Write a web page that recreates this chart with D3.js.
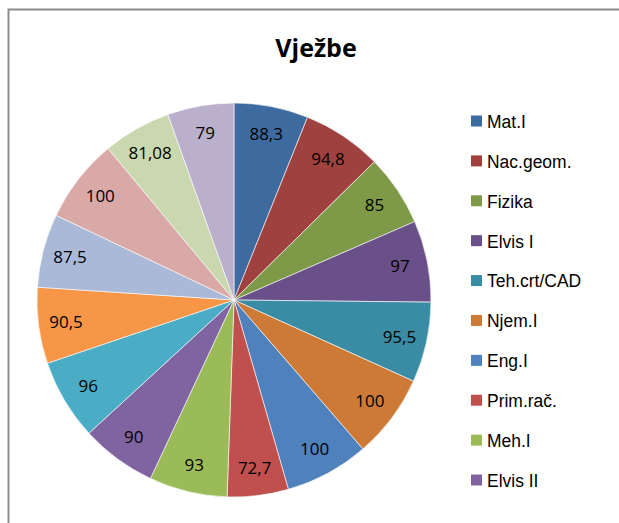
<!DOCTYPE html>
<meta charset="utf-8">
<script src="https://cdn.jsdelivr.net/npm/d3@7"></script>
<style>
body { margin: 0; background: #fff; }
.lbl { font: 17px "Open Sans", "Noto Sans", sans-serif; fill: #000; }
.leg { font: 19px "Liberation Sans", Arial, sans-serif; fill: #000; }
.title { font: bold 25px "Open Sans", "Noto Sans", sans-serif; fill: #000; }
</style>
<body>
<script>

var subjects = ["Mat.I", "Nac.geom.", "Fizika", "Elvis I", "Teh.crt/CAD", "Njem.I", "Eng.I",
                "Prim.rač.", "Meh.I", "Elvis II", "S11", "S12", "S13", "S14", "S15", "S16"];
var values = [88.3, 94.8, 85, 97, 95.5, 100, 100, 72.7, 93, 90, 96, 90.5, 87.5, 100, 81.08, 79];
var labels = ["88,3", "94,8", "85", "97", "95,5", "100", "100", "72,7", "93", "90", "96", "90,5", "87,5", "100", "81,08", "79"];
var colors = ["#3d6b9f", "#9f413e", "#7e9a48", "#6a5088", "#3a8ca4", "#cd7a37",
              "#4f81bd", "#c0504d", "#9bbb59", "#8064a2", "#4bacc6", "#f79646",
              "#a9b9d7", "#d9a9a8", "#c9d8ae", "#bbb0cc"];
var legendCount = 10;

var width = 619, height = 523;
var cx = 234, cy = 300, radius = 197;

var svg = d3.select("body").append("svg")
    .attr("width", width)
    .attr("height", height);

// chart frame (only top and left visible)
svg.append("path")
    .attr("d", "M8.5,523 L8.5,9.5 L619,9.5")
    .attr("fill", "none")
    .attr("stroke", "#8c8c8c")
    .attr("stroke-width", 2);

svg.append("text")
    .attr("class", "title")
    .attr("x", 316)
    .attr("y", 57)
    .attr("text-anchor", "middle")
    .text("Vježbe");

var pie = d3.pie().sort(null).value(function(d) { return d; });
var arcs = pie(values);

var arc = d3.arc().innerRadius(0).outerRadius(radius);
var labelArc = d3.arc().innerRadius(radius * 0.86).outerRadius(radius * 0.86);

var g = svg.append("g").attr("transform", "translate(" + cx + "," + cy + ")");

g.selectAll("path")
    .data(arcs)
    .enter().append("path")
    .attr("d", arc)
    .attr("fill", function(d, i) { return colors[i]; })
    .attr("stroke", "#fff")
    .attr("stroke-width", 0.6);

g.selectAll("text")
    .data(arcs)
    .enter().append("text")
    .attr("class", "lbl")
    .attr("transform", function(d) {
      var c = labelArc.centroid(d);
      return "translate(" + c[0] + "," + c[1] + ")";
    })
    .attr("text-anchor", "middle")
    .attr("dy", "0.35em")
    .text(function(d, i) { return labels[i]; });

// legend
var legY = d3.scalePoint()
    .domain(d3.range(legendCount))
    .range([121, 480]);

var leg = svg.append("g").selectAll("g")
    .data(d3.range(legendCount))
    .enter().append("g")
    .attr("transform", function(i) { return "translate(471," + legY(i) + ")"; });

leg.append("rect")
    .attr("x", 0)
    .attr("y", -5.5)
    .attr("width", 11)
    .attr("height", 11)
    .attr("fill", function(i) { return colors[i]; });

leg.append("text")
    .attr("class", "leg")
    .attr("transform", "translate(16,0) scale(0.92,1)")
    .attr("dy", "0.36em")
    .text(function(i) { return subjects[i]; });

</script>
</body>
